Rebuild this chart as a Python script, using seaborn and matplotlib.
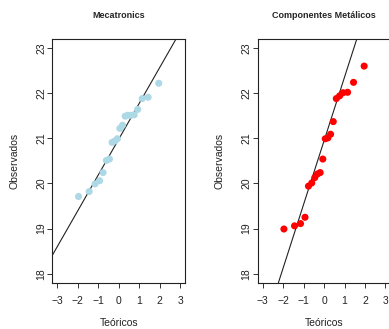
import numpy as np
import pandas as pd
import matplotlib
matplotlib.use("Agg")
import matplotlib.pyplot as plt
import seaborn as sns

# ---------------------------------------------------------------
# Data
# ---------------------------------------------------------------
teoricos = [-1.96, -1.44, -1.15, -0.93, -0.76, -0.60, -0.45, -0.32, -0.19, -0.06,
            0.06, 0.19, 0.32, 0.45, 0.60, 0.76, 0.93, 1.15, 1.44, 1.96]

mecatronics = [19.71, 19.82, 19.99, 20.06, 20.24, 20.51, 20.54, 20.91, 20.94, 20.99,
               21.22, 21.29, 21.49, 21.51, 21.51, 21.52, 21.64, 21.88, 21.91, 22.22]

metalicos = [18.99, 19.06, 19.11, 19.25, 19.94, 20.01, 20.13, 20.21, 20.24, 20.54,
             20.99, 21.01, 21.09, 21.37, 21.88, 21.94, 22.01, 22.02, 22.24, 22.60]

titles = ["Mecatronics", "Componentes Metálicos"]
colors = ["#ADD8E6", "#FF0000"]
x_ticks = [-3, -2, -1, 0, 1, 2, 3]
y_ticks = [18, 19, 20, 21, 22, 23]

# ---------------------------------------------------------------
# Style
# ---------------------------------------------------------------
sns.set_style("ticks")
plt.rcParams["font.family"] = ["Liberation Sans", "DejaVu Sans"]

fig = plt.figure(figsize=(3.89, 3.29), dpi=100)
axes = [fig.add_axes([0.1345, 0.1407, 0.341, 0.7407]),
        fig.add_axes([0.6625, 0.1407, 0.341, 0.7407])]

for ax, obs, title, col in zip(axes, [mecatronics, metalicos], titles, colors):
    df = pd.DataFrame({"Teóricos": teoricos, "Observados": obs})
    sns.scatterplot(data=df, x="Teóricos", y="Observados", ax=ax,
                    color=col, s=26, edgecolor="none", zorder=3)

    # qqline: through first and third quartiles
    q25, q75 = np.quantile(obs, [0.25, 0.75])
    z25, z75 = -0.6744897501960817, 0.6744897501960817
    slope = (q75 - q25) / (z75 - z25)
    intercept = q25 - slope * z25
    ax.axline((0, intercept), slope=slope, color="#222222", lw=0.8, zorder=2)

    ax.set_xlim(-3.24, 3.24)
    ax.set_ylim(17.8, 23.2)
    ax.set_xticks(x_ticks)
    ax.set_yticks(y_ticks)
    ax.set_xticklabels([str(t).replace("-", "\u2212") for t in x_ticks])
    ax.set_yticklabels([str(t) for t in y_ticks], rotation=90, va="center")
    ax.tick_params(axis="both", labelsize=7.5, length=3.5, width=0.7,
                   color="#333333", labelcolor="#222222")
    ax.tick_params(axis="x", pad=6)
    ax.tick_params(axis="y", pad=1)
    for sp in ax.spines.values():
        sp.set_visible(True)
        sp.set_linewidth(0.8)
        sp.set_color("#222222")

    ax.set_xlabel("Teóricos", fontsize=7.5, color="#222222", labelpad=9)
    ax.set_ylabel("Observados", fontsize=7.5, color="#222222", labelpad=12)
    ax.set_title(title, fontsize=6.5, fontweight="bold", pad=15)

fig.savefig("out.png", dpi=100)
